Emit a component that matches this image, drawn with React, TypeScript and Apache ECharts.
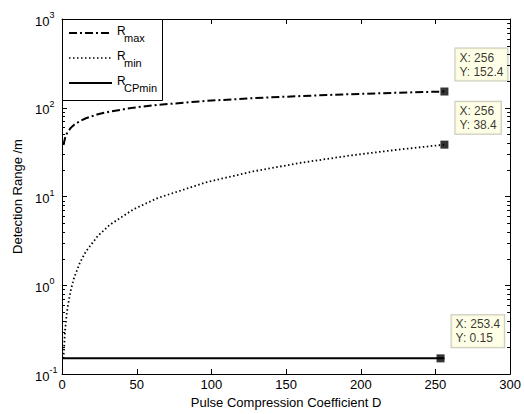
import React, { useEffect, useRef } from "react";
import * as echarts from "echarts";

// Pulse compression coefficient D (x) and detection ranges
const dValues = [1, 2, 3, 4, 6, 8, 12, 16, 24, 32, 48, 64, 96, 128, 160, 192, 224, 256];
const rMax = [38.1, 45.3, 50.2, 53.9, 59.7, 64.1, 70.9, 76.2, 84.4, 90.6, 100.3, 107.8, 119.3, 128.2, 135.6, 141.9, 147.5, 152.4];
const rMin = [0.15, 0.3, 0.45, 0.6, 0.9, 1.2, 1.8, 2.4, 3.6, 4.8, 7.2, 9.6, 14.4, 19.2, 24, 28.8, 33.6, 38.4];
const cpD = [0, 256];
const rCPmin = [0.15, 0.15];

// Data tips
const tipX = [256, 256, 253.4];
const tipY = [152.4, 38.4, 0.15];

// Axis ticks
const xMin = 0;
const xMax = 300;
const xInterval = 50;
const xTicks = [0, 50, 100, 150, 200, 250, 300];
const yMin = 0.1;
const yMax = 1000;
const yMajorTicks = [0.1, 1, 10, 100, 1000];
const yMinorTicks = [
  0.2, 0.3, 0.4, 0.5, 0.6, 0.7, 0.8, 0.9,
  2, 3, 4, 5, 6, 7, 8, 9,
  20, 30, 40, 50, 60, 70, 80, 90,
  200, 300, 400, 500, 600, 700, 800, 900,
];

const legendMain = ["R", "R", "R"];
const legendSub = ["max", "min", "CPmin"];

const FONT = "'Liberation Sans', Arial, Helvetica, sans-serif";

export default function App() {
  const ref = useRef<HTMLDivElement>(null);

  useEffect(() => {
    if (!ref.current) return;
    const chart = echarts.init(ref.current, null, { renderer: "svg" });

    const gridLeft = 62;
    const gridTop = 19;

    const legendLineY = [33, 58, 83];
    const legendDash: (number[] | null)[] = [[8, 3, 2, 3], [1.5, 2.5], null];
    const legendWidth = [2, 1.5, 2];

    const legendGraphics: any[] = [
      {
        type: "rect",
        shape: { x: gridLeft + 0.5, y: gridTop + 0.5, width: 100, height: 81 },
        style: { fill: "#fff", stroke: "#000", lineWidth: 1 },
        z: 100,
      },
    ];
    legendLineY.forEach((ly, i) => {
      legendGraphics.push({
        type: "line",
        shape: { x1: 69, y1: ly, x2: 112, y2: ly },
        style: { stroke: "#000", lineWidth: legendWidth[i], lineDash: legendDash[i] || undefined },
        z: 101,
      });
      legendGraphics.push({
        type: "text",
        x: 117,
        y: ly - 2.5,
        style: { text: legendMain[i], fontSize: 12, fontFamily: FONT, fill: "#000", verticalAlign: "middle", align: "left" },
        z: 101,
      });
      legendGraphics.push({
        type: "text",
        x: 124,
        y: ly + 5,
        style: { text: legendSub[i], fontSize: 11, fontFamily: FONT, fill: "#000", verticalAlign: "middle", align: "left" },
        z: 101,
      });
    });

    const axisLineStyle = { lineStyle: { color: "#000", width: 1 } };

    chart.setOption({
      animation: false,
      backgroundColor: "#fff",
      textStyle: { fontFamily: FONT },
      grid: { left: gridLeft, right: 12, top: gridTop, bottom: 40, containLabel: false },
      xAxis: [
        {
          type: "value",
          min: xMin,
          max: xMax,
          interval: xInterval,
          name: "Pulse Compression Coefficient D",
          nameLocation: "middle",
          nameGap: 21,
          nameTextStyle: { fontSize: 13, color: "#000", fontFamily: FONT },
          axisLine: { show: true, ...axisLineStyle },
          axisTick: { show: false },
          axisLabel: { fontSize: 13, color: "#000", margin: 4, fontFamily: FONT },
          splitLine: { show: false },
        },
        {
          type: "value",
          position: "top",
          min: xMin,
          max: xMax,
          interval: xInterval,
          axisLine: { show: true, onZero: false, ...axisLineStyle },
          axisTick: { show: false },
          axisLabel: { show: false },
          splitLine: { show: false },
        },
      ],
      yAxis: [
        {
          type: "log",
          logBase: 10,
          min: yMin,
          max: yMax,
          name: "Detection Range /m",
          nameLocation: "middle",
          nameGap: 36,
          nameTextStyle: { fontSize: 13, color: "#000", fontFamily: FONT },
          axisLine: { show: true, ...axisLineStyle },
          axisTick: { show: false },
          axisLabel: {
            margin: 27,
            align: "left",
            color: "#000",
            formatter: (v: number) => `{b|10}{e|${Math.round(Math.log10(v))}}`,
            rich: {
              b: { fontSize: 13, lineHeight: 17, verticalAlign: "bottom", fontFamily: FONT, color: "#000" },
              e: { fontSize: 9, lineHeight: 8, verticalAlign: "top", fontFamily: FONT, color: "#000" },
            },
          },
          splitLine: { show: false },
        },
        {
          type: "log",
          logBase: 10,
          min: yMin,
          max: yMax,
          position: "right",
          axisLine: { show: true, onZero: false, ...axisLineStyle },
          axisTick: { show: false },
          axisLabel: { show: false },
          splitLine: { show: false },
        },
      ],
      graphic: legendGraphics,
      series: [
        {
          name: "Rmax",
          type: "line",
          data: dValues.map((d, i) => [d, rMax[i]]),
          symbol: "none",
          lineStyle: { color: "#000", width: 2, type: [8, 3, 2, 3] },
          z: 3,
        },
        {
          name: "Rmin",
          type: "line",
          data: dValues.map((d, i) => [d, rMin[i]]),
          symbol: "none",
          lineStyle: { color: "#000", width: 1.8, type: [1.5, 2.5] },
          z: 3,
        },
        {
          name: "RCPmin",
          type: "line",
          data: cpD.map((d, i) => [d, rCPmin[i]]),
          symbol: "none",
          lineStyle: { color: "#000", width: 2 },
          z: 3,
        },
        {
          name: "tips",
          type: "scatter",
          data: tipX.map((x, i) => [x, tipY[i]]),
          symbol: "rect",
          symbolSize: 8,
          itemStyle: { color: "#000" },
          z: 5,
          label: {
            show: true,
            position: [15, -7],
            align: "left",
            verticalAlign: "bottom",
            formatter: (p: any) => `X: ${p.value[0]}\nY: ${p.value[1]}`,
            backgroundColor: "#ffffe1",
            borderColor: "#b9b9a8",
            borderWidth: 1,
            padding: [2, 4, 2, 4],
            lineHeight: 14,
            fontSize: 12,
            color: "#000",
            fontFamily: FONT,
          },
        },
      ],
    });

    // Tick marks on all four sides, placed through the chart's own scales
    const finder = { xAxisIndex: 0, yAxisIndex: 0 };
    const toPx = (x: number, y: number) => chart.convertToPixel(finder as any, [x, y]) as number[];
    const tickGraphics: any[] = [];
    const addH = (v: number, len: number) => {
      const pL = toPx(xMin, v);
      const pR = toPx(xMax, v);
      const y = Math.round(pL[1]) + 0.5;
      tickGraphics.push({ type: "line", z: 50, silent: true, shape: { x1: pL[0], y1: y, x2: pL[0] + len, y2: y }, style: { stroke: "#000", lineWidth: 1 } });
      tickGraphics.push({ type: "line", z: 50, silent: true, shape: { x1: pR[0] - len, y1: y, x2: pR[0], y2: y }, style: { stroke: "#000", lineWidth: 1 } });
    };
    yMajorTicks.forEach((v) => addH(v, 5));
    yMinorTicks.forEach((v) => addH(v, 3));
    xTicks.forEach((t) => {
      const pB = toPx(t, yMin);
      const pT = toPx(t, yMax);
      const x = Math.round(pB[0]) + 0.5;
      tickGraphics.push({ type: "line", z: 50, silent: true, shape: { x1: x, y1: pB[1], x2: x, y2: pB[1] - 5 }, style: { stroke: "#000", lineWidth: 1 } });
      tickGraphics.push({ type: "line", z: 50, silent: true, shape: { x1: x, y1: pT[1], x2: x, y2: pT[1] + 5 }, style: { stroke: "#000", lineWidth: 1 } });
    });

    chart.setOption({ graphic: [...legendGraphics, ...tickGraphics] });

    return () => chart.dispose();
  }, []);

  return <div ref={ref} style={{ position: "fixed", left: 0, top: 0, width: 524, height: 414, background: "#fff" }} />;
}
